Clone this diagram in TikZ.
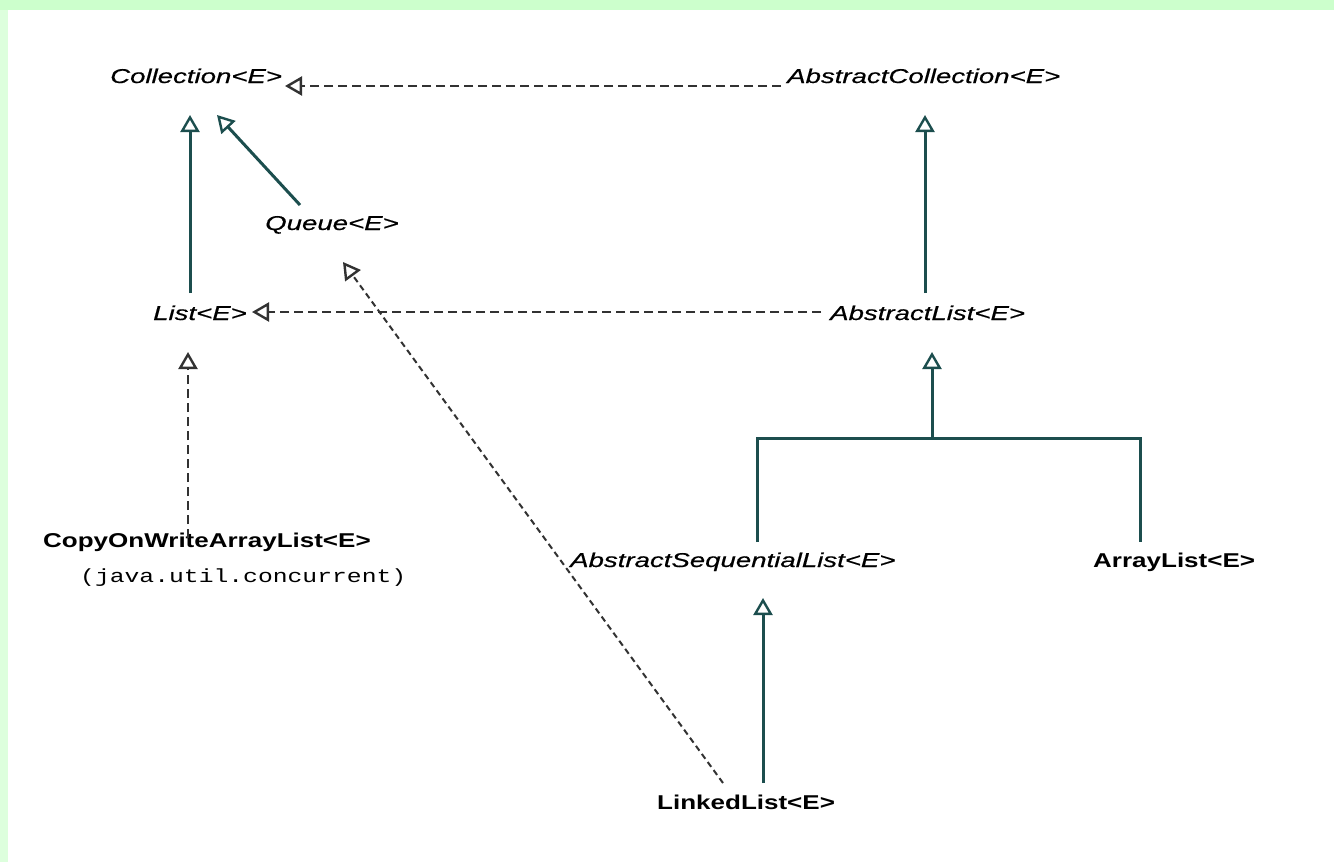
\documentclass[tikz,border=0pt]{standalone}
\usepackage{fontspec}
\usetikzlibrary{arrows.meta}
\newfontfamily\ifont[FakeStretch=1.38,FakeBold=0.5]{Liberation Sans Italic}
\newfontfamily\bfont[FakeStretch=1.3]{Liberation Sans Bold}
\newfontfamily\mfont[FakeStretch=1.3]{Liberation Mono}
\definecolor{bgtop}{RGB}{204,255,204}
\definecolor{bgleft}{RGB}{221,255,221}
\definecolor{teal}{RGB}{28,78,78}
\definecolor{dashc}{RGB}{50,50,50}
\tikzset{
  abs/.style={anchor=base west, inner sep=0pt, font=\ifont\fontsize{20}{24}\selectfont},
  conc/.style={anchor=base west, inner sep=0pt, font=\bfont\fontsize{20}{24}\selectfont},
  pkg/.style={anchor=base west, inner sep=0pt, font=\mfont\fontsize{19}{22}\selectfont},
  tri/.tip={Triangle[open, length=17pt, width=19pt, line width=2.4pt]},
  extends/.style={draw=teal, line width=3pt, -tri},
  impl/.style={draw=dashc, line width=2pt, dash pattern=on 9pt off 5pt, -tri},
  impld/.style={draw=dashc, line width=2pt, dash pattern=on 6pt off 4pt, -tri},
  branch/.style={draw=teal, line width=3pt}
}
\begin{document}
\begin{tikzpicture}[x=1pt, y=-1pt]
\useasboundingbox (0,0) rectangle (1334,862);
\fill[white] (0,0) rectangle (1334,862);
\fill[bgleft] (0,0) rectangle (8,862);
\fill[bgtop] (0,0) rectangle (1334,10);

% classes
\node[abs]  (coll)  at (110,83)  {Collection<E>};
\node[abs]  (acoll) at (787,83)  {AbstractCollection<E>};
\node[abs]  (queue) at (265,230) {Queue<E>};
\node[abs]  (list)  at (153,320) {List<E>};
\node[abs]  (alist) at (830,320) {AbstractList<E>};
\node[conc] (cow)   at (43,547)  {CopyOnWriteArrayList<E>};
\node[pkg]  (cowpkg) at (80,582) {(java.util.concurrent)};
\node[abs]  (asl)   at (570,567) {AbstractSequentialList<E>};
\node[conc] (alst)  at (1093,567) {ArrayList<E>};
\node[conc] (llist) at (657,809) {LinkedList<E>};

% connector end points
\coordinate (collTipR)  at (285,86);
\coordinate (acollL)    at (781,86);
\coordinate (collTipA)  at (190,115);
\coordinate (listTop)   at (190,293);
\coordinate (collTipB)  at (217,115);
\coordinate (queueTop)  at (300,205);
\coordinate (acollTip)  at (925,115);
\coordinate (alistTop)  at (925,293);
\coordinate (listTipR)  at (252,312);
\coordinate (alistL)    at (821,312);
\coordinate (listTipB)  at (188,352);
\coordinate (cowTop)    at (188,538);
\coordinate (alistTipB) at (932,352);
\coordinate (join)      at (932,438);
\coordinate (aslTop)    at (757,542);
\coordinate (alstTop)   at (1140,542);
\coordinate (queueTip)  at (343,262);
\coordinate (llistTopL) at (723,783);
\coordinate (aslTip)    at (763,598);
\coordinate (llistTopR) at (763,783);

% connectors
\draw[impl] (acollL) -- (collTipR);
\draw[extends] (listTop) -- (collTipA);
\draw[extends] (queueTop) -- (collTipB);
\draw[extends] (alistTop) -- (acollTip);
\draw[impl] (alistL) -- (listTipR);
\draw[impl] (cowTop) -- (listTipB);
\draw[branch] (aslTop) |- (join) -| (alstTop);
\draw[extends] (join) -- (alistTipB);
\draw[impld] (llistTopL) -- (queueTip);
\draw[extends] (llistTopR) -- (aslTip);
\end{tikzpicture}
\end{document}
